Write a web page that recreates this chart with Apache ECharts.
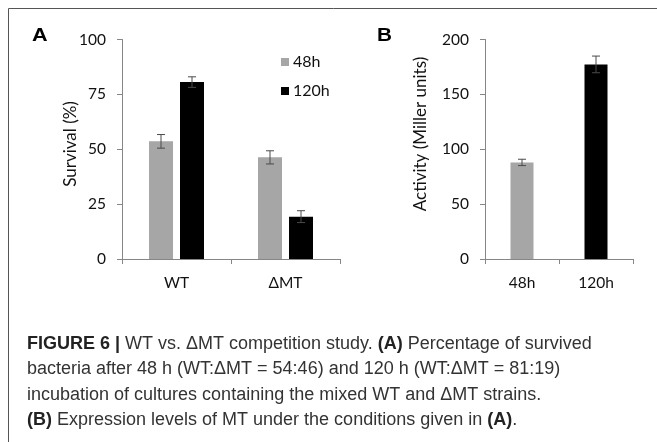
<!DOCTYPE html>
<html>
<head>
<meta charset="utf-8">
<script src="https://cdn.jsdelivr.net/npm/echarts@6/dist/echarts.min.js"></script>
<style>
html,body{margin:0;padding:0;background:#fff;}
#chart{width:657px;height:442px;}
</style>
</head>
<body>
<div id="chart"></div>
<script>
// ---- data ----
const categoriesA = ['WT', 'ΔMT'];
const seriesNamesA = ['48h', '120h'];
const survival48h = [53.6, 46.3];
const survival120h = [80.6, 19.3];
const survivalErr48h = [3.1, 3.0];
const survivalErr120h = [2.4, 2.7];

const categoriesB = ['48h', '120h'];
const activityValues = [88.0, 177.3];
const activityErr = [2.9, 7.6];

const yTicksA = { min: 0, max: 100, interval: 25 };
const yTicksB = { min: 0, max: 200, interval: 50 };

const captionLines = [
  '{b|FIGURE 6 |} WT vs. ΔMT competition study. {b|(A)} Percentage of survived',
  'bacteria after 48 h (WT:ΔMT = 54:46) and 120 h (WT:ΔMT = 81:19)',
  'incubation of cultures containing the mixed WT and ΔMT strains.',
  '{b|(B)} Expression levels of MT under the conditions given in {b|(A)}.'
];

// ---- styles ----
const GRAY = '#A6A6A6';
const BLACK = '#000000';
const AXIS = '#868686';
const FONT = 'Lato, "Open Sans", sans-serif';
const CAPFONT = '"Liberation Sans", Arial, sans-serif';
const barWA = 24, gapA = 7;
const barWB = 23;

const chart = echarts.init(document.getElementById('chart'));

function axisY(t) {
  return {
    min: t.min, max: t.max, interval: t.interval,
    axisLine: { show: true, lineStyle: { color: AXIS, width: 1 } },
    axisTick: { show: true, inside: false, length: 5, lineStyle: { color: AXIS } },
    splitLine: { show: false },
    axisLabel: { color: '#111', fontSize: 15.5, fontFamily: FONT, margin: 16 }
  };
}
function axisX(cats) {
  return {
    type: 'category', data: cats, boundaryGap: true,
    axisLine: { show: true, lineStyle: { color: AXIS, width: 1 } },
    axisTick: { show: true, alignWithLabel: false, length: 5, lineStyle: { color: AXIS } },
    axisLabel: { color: '#111', fontSize: 15.5, fontFamily: FONT, margin: 16 }
  };
}

function errRenderer(shift) {
  return function (params, api) {
    const ci = api.value(0), v = api.value(1), e = api.value(2), side = api.value(3);
    const c = api.coord([ci, v]);
    const x = c[0] + side * shift;
    const yt = api.coord([ci, v + e])[1];
    const yb = api.coord([ci, v - e])[1];
    const st = { stroke: '#4a4a4a', lineWidth: 1 };
    const cap = 4;
    return {
      type: 'group',
      children: [
        { type: 'line', shape: { x1: x, y1: yt, x2: x, y2: yb }, style: st },
        { type: 'line', shape: { x1: x - cap, y1: yt, x2: x + cap, y2: yt }, style: st },
        { type: 'line', shape: { x1: x - cap, y1: yb, x2: x + cap, y2: yb }, style: st }
      ]
    };
  };
}

const errDataA = [];
categoriesA.forEach((c, i) => {
  errDataA.push([i, survival48h[i], survivalErr48h[i], -1]);
  errDataA.push([i, survival120h[i], survivalErr120h[i], 1]);
});
const errDataB = categoriesB.map((c, i) => [i, activityValues[i], activityErr[i], 0]);
const barColorsB = [GRAY, BLACK];

const captionGraphics = captionLines.map((l, i) => ({
  type: 'text', left: 27, top: 335 + i * 25.5,
  style: {
    text: l,
    font: '18px ' + CAPFONT,
    fill: '#333',
    rich: { b: { fontWeight: 'bold', fontSize: 18, fontFamily: CAPFONT, fill: '#222' } }
  }
}));

chart.setOption({
  animation: false,
  textStyle: { fontFamily: FONT },
  grid: [
    { left: 122, top: 39.5, width: 218, height: 219.5 },
    { left: 485, top: 39.5, width: 148, height: 219.5 }
  ],
  xAxis: [
    Object.assign(axisX(categoriesA), { gridIndex: 0 }),
    Object.assign(axisX(categoriesB), { gridIndex: 1 })
  ],
  yAxis: [
    Object.assign(axisY(yTicksA), { gridIndex: 0 }),
    Object.assign(axisY(yTicksB), { gridIndex: 1 })
  ],
  legend: {
    data: seriesNamesA, orient: 'vertical', left: 281, top: 54, padding: 0,
    itemWidth: 8, itemHeight: 8, itemGap: 13, icon: 'rect',
    textStyle: { fontSize: 16, color: '#111', fontFamily: FONT, padding: [0, 0, 0, -1] }
  },
  series: [
    { name: seriesNamesA[0], type: 'bar', xAxisIndex: 0, yAxisIndex: 0, data: survival48h,
      barWidth: barWA, barGap: (gapA / barWA * 100) + '%', itemStyle: { color: GRAY } },
    { name: seriesNamesA[1], type: 'bar', xAxisIndex: 0, yAxisIndex: 0, data: survival120h,
      barWidth: barWA, barGap: (gapA / barWA * 100) + '%', itemStyle: { color: BLACK } },
    { type: 'custom', xAxisIndex: 0, yAxisIndex: 0, renderItem: errRenderer((barWA + gapA) / 2),
      data: errDataA, encode: { x: 0, y: 1 }, z: 5 },
    { type: 'bar', xAxisIndex: 1, yAxisIndex: 1, barWidth: barWB,
      data: activityValues.map((v, i) => ({ value: v, itemStyle: { color: barColorsB[i] } })) },
    { type: 'custom', xAxisIndex: 1, yAxisIndex: 1, renderItem: errRenderer(0),
      data: errDataB, encode: { x: 0, y: 1 }, z: 5 }
  ],
  graphic: [
    { type: 'rect', shape: { x: 8.5, y: 8.5, width: 800, height: 600 }, style: { fill: null, stroke: '#555', lineWidth: 1 }, silent: true },
    { type: 'text', x: 32, y: 27, scaleX: 1.2, style: { text: 'A', font: 'bold 18px ' + CAPFONT, fill: '#000' } },
    { type: 'text', x: 377, y: 27, scaleX: 1.15, style: { text: 'B', font: 'bold 18px ' + CAPFONT, fill: '#000' } },
    { type: 'text', x: 71, y: 144, rotation: Math.PI / 2,
      style: { text: 'Survival (%)', font: '17px ' + FONT, fill: '#111', align: 'center', verticalAlign: 'middle' } },
    { type: 'text', x: 421, y: 134, rotation: Math.PI / 2,
      style: { text: 'Activity (Miller units)', font: '17px ' + FONT, fill: '#111', align: 'center', verticalAlign: 'middle' } }
  ].concat(captionGraphics)
});
</script>
</body>
</html>
